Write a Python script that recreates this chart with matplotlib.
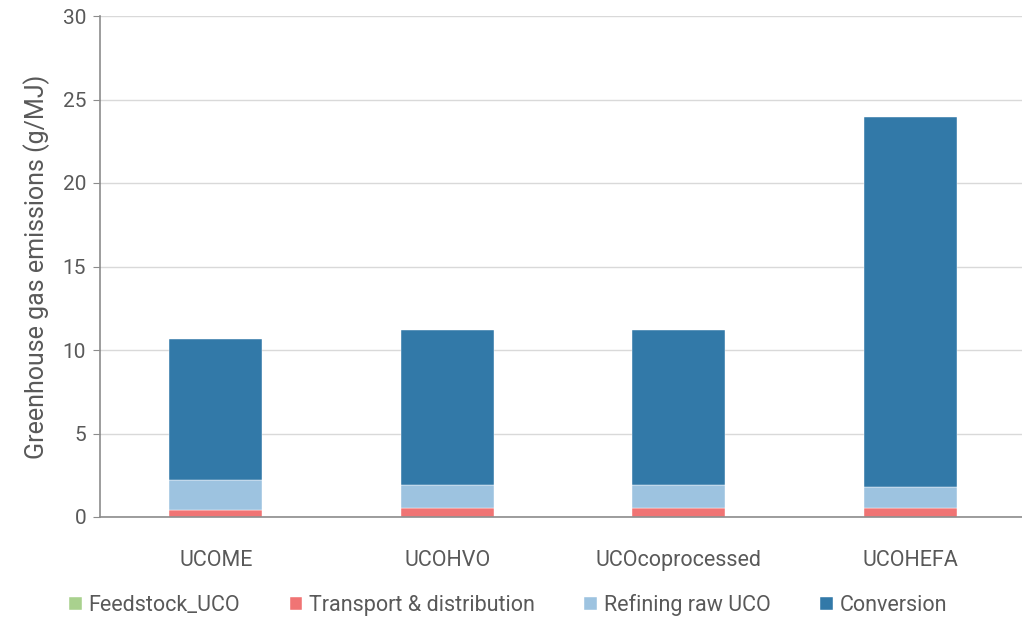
import matplotlib.pyplot as plt
import numpy as np

plt.rcParams['font.family'] = ['Roboto', 'DejaVu Sans']

categories = ['UCOME', 'UCOHVO', 'UCOcoprocessed', 'UCOHEFA']
feedstock = [0.0, 0.0, 0.0, 0.0]
transport = [0.42, 0.52, 0.52, 0.52]
refining = [1.80, 1.40, 1.40, 1.28]
conversion = [8.44, 9.28, 9.28, 22.15]

series = [
    ('Feedstock_UCO', feedstock, '#a9d18e'),
    ('Transport & distribution', transport, '#f07474'),
    ('Refining raw UCO', refining, '#9dc3e0'),
    ('Conversion', conversion, '#3279a8'),
]

text_color = '#595959'

fig = plt.figure(figsize=(10.22, 6.18), dpi=100)
ax = fig.add_axes([100 / 1022, 1 - 517 / 618, 926 / 1022, 501 / 618])

x = np.arange(len(categories))
bottom = np.zeros(len(categories))
for name, vals, color in series:
    ax.bar(x, vals, width=0.4, bottom=bottom, color=color, label=name,
           edgecolor='white', linewidth=0.3, zorder=3)
    bottom += np.array(vals)

ax.set_xlim(-0.5, 3.5)
ax.set_ylim(0, 30)
ax.set_yticks(range(0, 31, 5))
ax.set_xticks(x)
ax.set_xticklabels(categories)
ax.yaxis.grid(True, color='#d9d9d9', linewidth=1, zorder=0)
ax.set_axisbelow(True)

for side in ['top', 'right']:
    ax.spines[side].set_visible(False)
for side in ['left', 'bottom']:
    ax.spines[side].set_color('#8c8c8c')
    ax.spines[side].set_linewidth(1.2)
    ax.spines[side].set_zorder(4)

ax.tick_params(axis='y', length=5, color='#8c8c8c', labelsize=15,
               labelcolor=text_color, pad=5)
ax.tick_params(axis='x', length=0, labelsize=15.5, labelcolor=text_color, pad=24)
ax.set_ylabel('Greenhouse gas emissions (g/MJ)', fontsize=18, color=text_color,
              labelpad=9)

fig.legend(loc='lower center', bbox_to_anchor=(0.497, -0.028), ncol=4,
           frameon=False, fontsize=15.5, handlelength=0.6, handleheight=0.6,
           handletextpad=0.3, columnspacing=2.3, labelcolor=text_color)

fig.savefig('out.png', dpi=100)
